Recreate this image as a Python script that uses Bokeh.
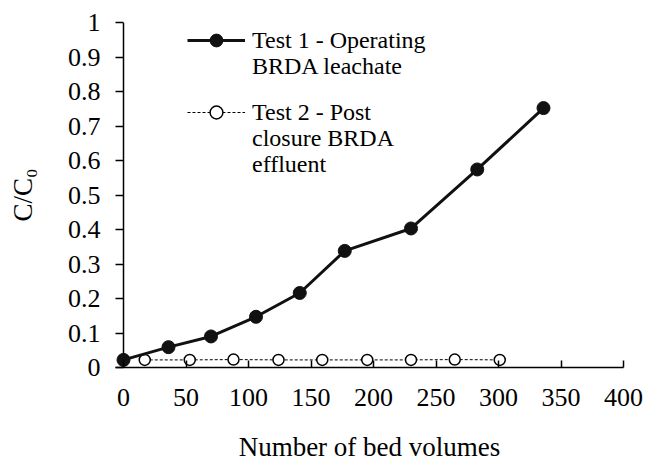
from bokeh.plotting import figure
from bokeh.models import Range1d, FixedTicker, Legend, LegendItem, Span
from bokeh.embed import file_html
from bokeh.resources import INLINE

# ---- data ----
test1_x = [0, 36, 70, 106, 141, 177, 230, 283, 336]
test1_y = [0.022, 0.059, 0.090, 0.147, 0.216, 0.338, 0.403, 0.574, 0.752]
test2_x = [17, 53, 88, 124, 159, 195, 230, 265, 301]
test2_y = [0.022, 0.022, 0.023, 0.022, 0.022, 0.022, 0.022, 0.023, 0.022]

x_ticks = [0, 50, 100, 150, 200, 250, 300, 350, 400]
y_ticks = [0, 0.1, 0.2, 0.3, 0.4, 0.5, 0.6, 0.7, 0.8, 0.9, 1]
y_tick_labels = ["0", "0.1", "0.2", "0.3", "0.4", "0.5", "0.6", "0.7", "0.8", "0.9", "1"]

legend1_lines = ["Test 1 - Operating", "BRDA leachate"]
legend2_lines = ["Test 2 - Post", "closure BRDA", "effluent"]
x_label = "Number of bed volumes"
y_label = "C/C\u2080"

FONT = "Liberation Serif"

p = figure(width=659, height=465, output_backend="svg", toolbar_location=None,
           x_range=Range1d(-6.4, 400), y_range=Range1d(0, 1),
           min_border_left=115, min_border_right=36, min_border_top=22, min_border_bottom=98)
p.outline_line_color = None
p.xgrid.visible = False
p.ygrid.visible = False
p.background_fill_color = "white"
p.border_fill_color = "white"

# y axis line drawn at x=0
yline = Span(location=0, dimension="height", line_color="black", line_width=1.5, level="underlay")
p.add_layout(yline)

# series
r2_line = p.line(test2_x, test2_y, line_color="black", line_width=1, line_dash="3 2")
r2_pts = p.scatter(test2_x, test2_y, marker="circle", size=11, fill_color="white",
                   line_color="black", line_width=1.5)
r1_line = p.line(test1_x, test1_y, line_color="#111111", line_width=3)
r1_pts = p.scatter(test1_x, test1_y, marker="circle", size=13, fill_color="#111111",
                   line_color="#111111")
blank = p.line(x=[], y=[], line_alpha=0)

# axes
xa = p.xaxis[0]
xa.ticker = FixedTicker(ticks=x_ticks)
xa.minor_tick_line_color = None
xa.major_tick_in = 7
xa.major_tick_out = 0
xa.major_tick_line_width = 1.5
xa.major_tick_line_color = "black"
xa.axis_line_width = 1.5
xa.axis_line_color = "black"
xa.major_label_standoff = 21
xa.major_label_text_font = FONT
xa.major_label_text_font_size = "26px"
xa.major_label_text_color = "black"
xa.axis_label = x_label
xa.axis_label_text_font = FONT
xa.axis_label_text_font_size = "27px"
xa.axis_label_text_font_style = "normal"
xa.axis_label_text_color = "black"
xa.axis_label_standoff = 23

ya = p.yaxis[0]
ya.ticker = FixedTicker(ticks=y_ticks)
ya.major_label_overrides = {t: l for t, l in zip(y_ticks, y_tick_labels)}
ya.minor_tick_line_color = None
ya.axis_line_color = None
ya.major_tick_in = 8
ya.major_tick_out = 0
ya.major_tick_line_width = 1.5
ya.major_tick_line_color = "black"
ya.major_label_standoff = 15
ya.major_label_text_font = FONT
ya.major_label_text_font_size = "26px"
ya.major_label_text_color = "black"
ya.axis_label = y_label
ya.axis_label_text_font = FONT
ya.axis_label_text_font_size = "27px"
ya.axis_label_text_font_style = "normal"
ya.axis_label_text_color = "black"
ya.axis_label_standoff = 27


def make_legend(label, renderers, loc):
    return Legend(items=[LegendItem(label=label, renderers=renderers)], location=loc,
                  padding=0, margin=0, spacing=0,
                  glyph_width=58, glyph_height=32, label_height=32, label_standoff=7,
                  label_text_font=FONT, label_text_font_size="24px", label_text_color="black",
                  border_line_alpha=0, background_fill_alpha=0)


p.add_layout(make_legend(legend1_lines[0], [r1_line, r1_pts], (72, 311)))
p.add_layout(make_legend(legend1_lines[1], [blank], (72, 285)))
p.add_layout(make_legend(legend2_lines[0], [r2_line, r2_pts], (72, 239)))
p.add_layout(make_legend(legend2_lines[1], [blank], (72, 213)))
p.add_layout(make_legend(legend2_lines[2], [blank], (72, 187)))

open("out.html", "w").write(file_html(p, INLINE))
